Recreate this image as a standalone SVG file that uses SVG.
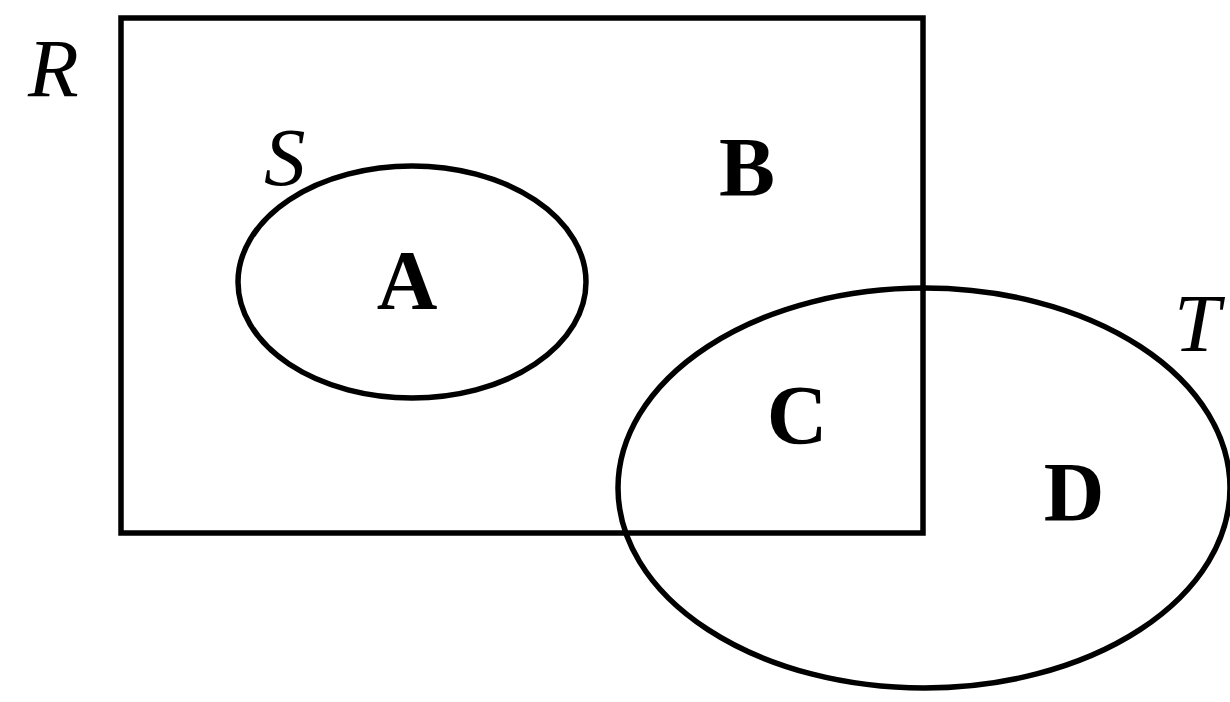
<svg xmlns="http://www.w3.org/2000/svg" width="1230" height="702" viewBox="0 0 1230 702">
<style>
.shape{fill:none;stroke:#000;stroke-width:5.5}
text{font-family:'Liberation Serif',Times,'Times New Roman',serif;fill:#000}
.lbl{font-style:italic;font-size:83px}
.reg{font-weight:bold;font-size:84px;text-anchor:middle}
</style>
<rect width="1230" height="702" fill="#fff"/>
<g id="R">
<rect class="shape" x="121" y="18" width="802" height="515"/>
<text class="lbl" x="28" y="96">R</text>
</g>
<g id="S">
<ellipse class="shape" cx="412" cy="282" rx="174" ry="116"/>
<text class="lbl" x="264" y="185">S</text>
</g>
<g id="T">
<ellipse class="shape" cx="924" cy="488" rx="306" ry="200"/>
<text class="lbl" x="1174" y="351">T</text>
</g>
<g id="regions">
<text class="reg" x="407" y="309">A</text>
<text class="reg" x="747" y="196">B</text>
<text class="reg" x="797" y="444">C</text>
<text class="reg" x="1074" y="521">D</text>
</g>
<g id="connectors"></g>
</svg>
